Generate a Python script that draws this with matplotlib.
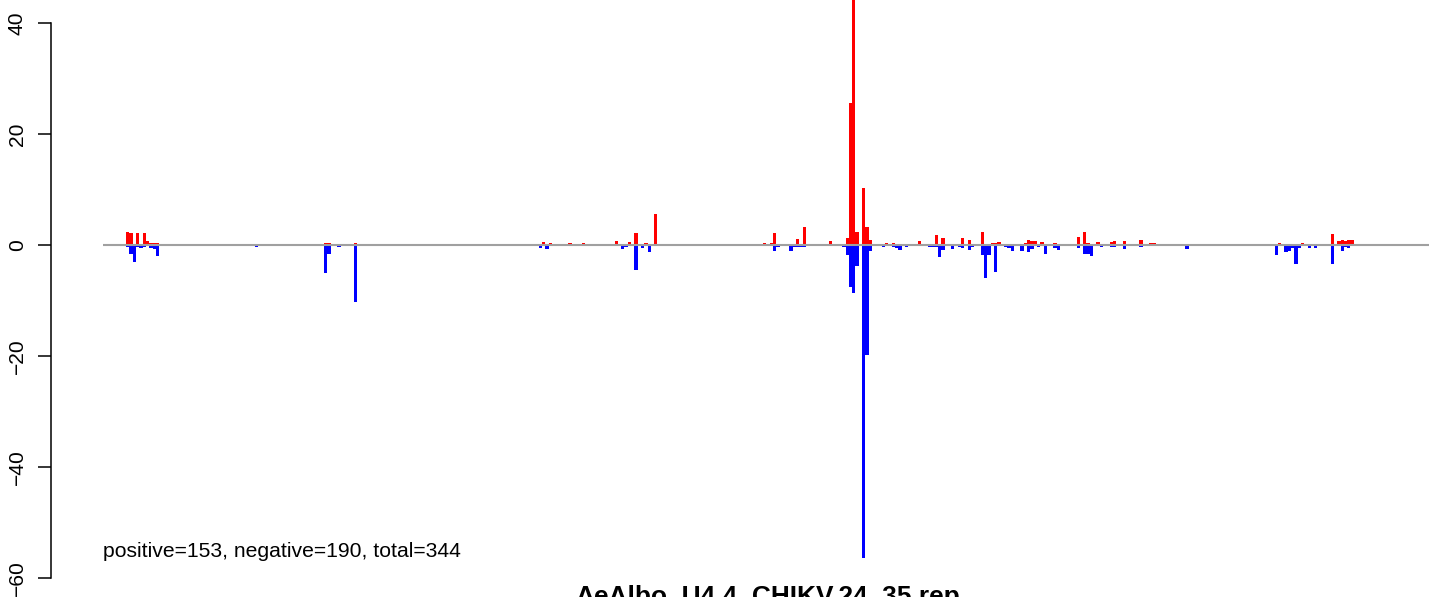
import matplotlib
matplotlib.use("Agg")

import matplotlib.pyplot as plt

# bins along the sequence (one bar slot per bin)
N_BINS = 402

pos_bins = [4, 7, 8, 10, 12, 13, 14, 15, 16, 67, 68, 76, 103,
            131, 132, 133, 135, 141, 145, 148, 151, 153, 154, 155, 159, 161, 164, 167, 170,
            194, 198, 200, 202, 203, 204, 205, 206, 208, 210, 211, 212, 213, 220,
            225, 226, 227, 228, 229, 230, 231, 232,
            237, 238, 239, 241, 242, 247, 250, 252, 254, 255, 256, 257, 258, 260, 261, 262,
            266, 267, 269, 270, 271, 272, 273, 275, 279, 280, 281, 282, 284, 286, 288, 290,
            294, 295, 297, 298, 299, 301, 302, 303, 305, 306, 307, 309, 314, 317, 318,
            326, 345, 355, 356, 359, 360, 363, 370, 372, 373, 374, 375, 376, 377, 378]
pos_vals = [0.2, 2.3, 2.1, 2.1, 2.1, 0.7, 0.3, 0.3, 0.3, 0.4, 0.4, 0.3, 0.1,
            0.1, 0.1, 0.5, 0.35, 0.35, 0.35, 0.2, 0.2, 0.2, 0.2, 0.7, 0.5, 2.1, 0.35, 5.5, 0.1,
            0.1, 0.1, 0.3, 0.3, 2.1, 0.2, 0.2, 0.2, 0.2, 1.0, 0.2, 3.2, 0.2, 0.7,
            1.3, 25.5, 48.0, 2.4, 0.1, 10.3, 3.2, 0.9,
            0.3, 0.1, 0.3, 0.1, 0.2, 0.7, 0.1, 1.8, 1.2, 0.2, 0.2, 0.2, 0.2, 1.2, 0.2, 0.9,
            2.3, 0.2, 0.3, 0.3, 0.5, 0.2, 0.2, 0.2, 0.3, 0.9, 0.7, 0.7, 0.5, 0.2, 0.3, 0.1,
            0.1, 1.4, 2.3, 0.3, 0.2, 0.5, 0.1, 0.2, 0.5, 0.7, 0.1, 0.7, 0.9, 0.3, 0.3,
            0.1, 0.1, 0.1, 0.3, 0.2, 0.2, 0.3, 0.2, 2.0, 0.1, 0.7, 0.9, 0.7, 0.9, 0.9]

neg_bins = [6, 7, 8, 9, 10, 11, 12, 13, 14, 15, 16, 46, 67, 68, 71, 76,
            132, 134, 136, 137, 138, 140, 141, 146, 148, 149, 150, 151, 152, 153, 154, 155,
            157, 158, 161, 163, 165, 166, 181, 182, 186,
            203, 204, 205, 206, 208, 209, 210, 211, 212, 216, 217, 220, 221,
            224, 225, 226, 227, 228, 230, 231, 232,
            236, 238, 239, 240, 241, 243, 246, 248, 250, 251, 252, 253, 254, 256, 257, 258,
            259, 260, 262, 263, 266, 267, 268, 270, 272, 273, 274, 275, 278, 279, 280, 281,
            282, 283, 284, 285, 288, 289, 292, 295, 297, 298, 299, 301, 302, 305, 306, 309,
            314, 318, 328, 352, 355, 358, 359, 360, 361, 362, 364, 365, 367,
            372, 373, 374, 375, 376, 377, 378, 382, 397]
neg_vals = [-0.2, -0.4, -1.6, -3.0, -0.4, -0.5, -0.4, -0.2, -0.5, -0.7, -2.0, -0.3, -5.0, -1.6, -0.4, -10.3,
            -0.5, -0.8, -0.1, -0.1, -0.1, -0.1, -0.1, -0.1, -0.1, -0.1, -0.1, -0.1, -0.1, -0.1, -0.1, -0.1,
            -0.8, -0.3, -4.5, -0.5, -1.2, -0.1, -0.2, -0.2, -0.2,
            -1.0, -0.4, -0.2, -0.2, -1.0, -0.4, -0.4, -0.4, -0.4, -0.2, -0.2, -0.2, -0.2,
            -0.4, -1.8, -7.6, -8.7, -3.8, -56.4, -19.8, -1.1,
            -0.4, -0.1, -0.4, -0.6, -0.9, -0.4, -0.2, -0.2, -0.4, -0.4, -0.4, -2.1, -0.9, -0.1, -0.8, -0.2,
            -0.4, -0.6, -0.9, -0.4, -1.8, -5.9, -1.8, -4.9, -0.1, -0.4, -0.6, -1.1, -1.1, -0.1, -1.3, -0.8,
            -0.2, -0.4, -0.2, -1.7, -0.6, -0.9, -0.2, -0.6, -1.7, -1.6, -2.0, -0.2, -0.4, -0.4, -0.4, -0.8,
            -0.4, -0.2, -0.7, -0.2, -1.8, -1.3, -1.0, -0.5, -3.4, -0.5, -0.2, -0.5, -0.5,
            -3.4, -0.1, -0.2, -1.1, -0.3, -0.5, -0.1, -0.2, -0.2]

y_ticks = [-60, -40, -20, 0, 20, 40]
summary = "positive=153, negative=190, total=344"
title = "AeAlbo_U4.4_CHIKV.24_35.rep"

plt.rcParams["font.family"] = ["Liberation Sans", "DejaVu Sans"]

W, H = 1429, 597
fig = plt.figure(figsize=(W / 100, H / 100), dpi=100)
fig.patch.set_facecolor("white")

# axes fill the whole height (image is cropped top and bottom), y axis line at x=51px
ax = fig.add_axes([51 / W, 0, 1 - 51 / W, 1])

# crisp bars like the R png device
ax.bar(pos_bins, pos_vals, width=1, align="edge", color="#FF0000",
       linewidth=0, antialiased=False, zorder=2)
ax.bar(neg_bins, neg_vals, width=1, align="edge", color="#0000FF",
       linewidth=0, antialiased=False, zorder=2)
ax.hlines(0, 0, N_BINS, color="#A0A0A0", linewidth=1.5, zorder=3)

ax.set_xlim(-15.76, 401.8)
ax.set_ylim(-63.42, 44.14)

for side in ["top", "right", "bottom"]:
    ax.spines[side].set_visible(False)
ax.spines["left"].set_bounds(-60, 40)
ax.spines["left"].set_linewidth(1.1)

ax.set_xticks([])
ax.set_yticks(y_ticks)
ax.set_yticklabels([f"{t}".replace("-", "\u2212") for t in y_ticks],
                   rotation=90, va="center", fontsize=15.1)
ax.tick_params(axis="y", direction="out", length=9.4, width=1.1, pad=8)

ax.text(0, -55.3, summary, ha="left", va="center", fontsize=15.2)

# title sits below the plot and is clipped by the image edge, as in the original
fig.text(768 / W, -7 / H, title, ha="center", va="baseline",
         fontsize=18.9, fontweight="bold")

fig.savefig("out.png", dpi=100, facecolor="white")
plt.close(fig)
